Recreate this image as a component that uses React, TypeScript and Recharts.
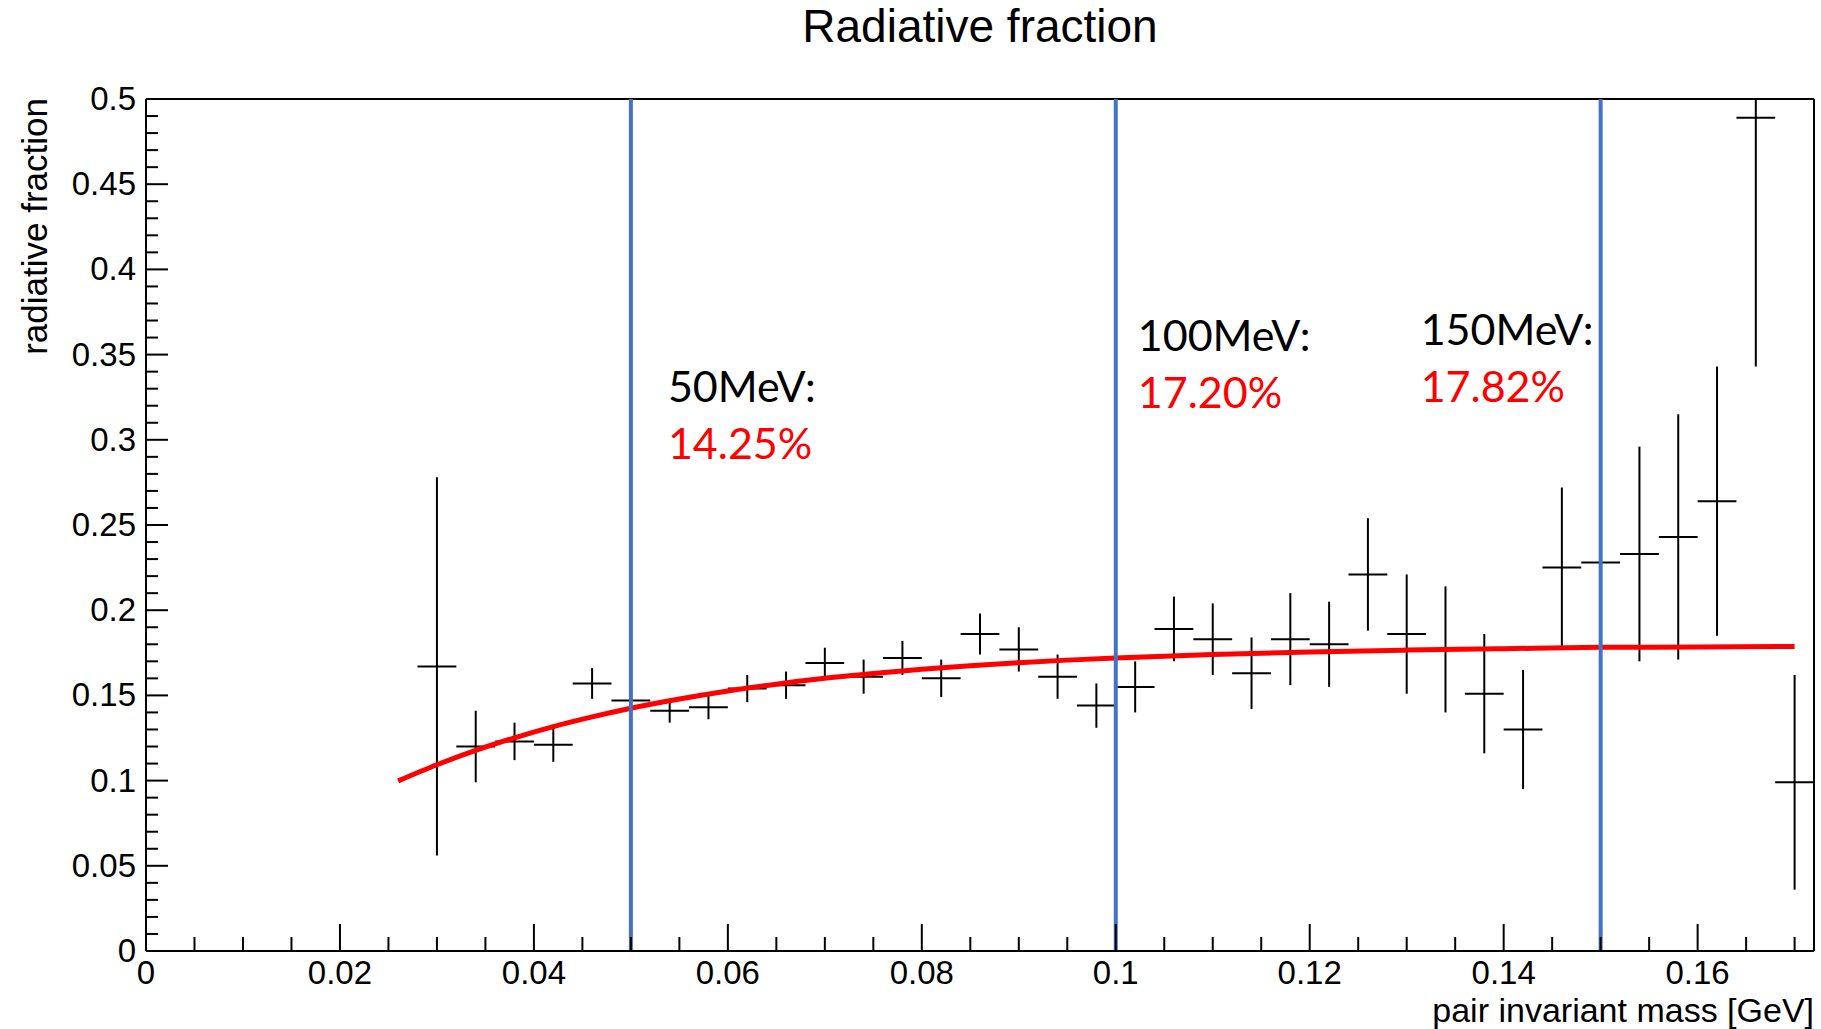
import {
  ComposedChart,
  ErrorBar,
  Line,
  ReferenceLine,
  Scatter,
  XAxis,
  YAxis,
} from "recharts";

// bin centres of the histogram [GeV]
const massBins = [
  0.03, 0.034, 0.038, 0.042, 0.046, 0.05, 0.054, 0.058, 0.062, 0.066, 0.07, 0.074,
  0.078, 0.082, 0.086, 0.09, 0.094, 0.098, 0.102, 0.106, 0.11, 0.114, 0.118, 0.122,
  0.126, 0.13, 0.134, 0.138, 0.142, 0.146, 0.15, 0.154, 0.158, 0.162, 0.166, 0.17,
];
const fraction = [
  0.167, 0.12, 0.123, 0.121, 0.157, 0.147, 0.141, 0.143, 0.154, 0.156, 0.169, 0.161,
  0.172, 0.16, 0.186, 0.177, 0.161, 0.144, 0.155, 0.189, 0.183, 0.163, 0.183, 0.18,
  0.221, 0.186, 0.177, 0.151, 0.13, 0.225, 0.228, 0.233, 0.243, 0.264, 0.489, 0.099,
];
const fractionErr = [
  0.111, 0.021, 0.011, 0.01, 0.009, 0.008, 0.007, 0.007, 0.008, 0.008, 0.009, 0.01,
  0.01, 0.011, 0.012, 0.013, 0.013, 0.013, 0.015, 0.019, 0.021, 0.021, 0.027, 0.025,
  0.033, 0.035, 0.037, 0.035, 0.035, 0.047, 0.084, 0.063, 0.072, 0.079, 0.146, 0.063,
];
const binHalfWidth = 0.002;

// fitted curve
const fitMass = [
  0.026, 0.03, 0.034, 0.038, 0.042, 0.046, 0.05, 0.055, 0.06, 0.065, 0.07, 0.075,
  0.08, 0.085, 0.09, 0.095, 0.1, 0.11, 0.12, 0.13, 0.14, 0.15, 0.16, 0.17,
];
const fitValue = [
  0.0998, 0.1093, 0.1177, 0.1251, 0.1317, 0.1374, 0.1425, 0.1479, 0.1526, 0.1566,
  0.16, 0.1628, 0.1653, 0.1674, 0.1692, 0.1707, 0.172, 0.174, 0.1755, 0.1766, 0.1774,
  0.1782, 0.1784, 0.1787,
];

const xMajorTicks = [0, 0.02, 0.04, 0.06, 0.08, 0.1, 0.12, 0.14, 0.16];
const yMajorTicks = [0, 0.05, 0.1, 0.15, 0.2, 0.25, 0.3, 0.35, 0.4, 0.45, 0.5];

const cutMass = [0.05, 0.1, 0.15];
const cutNames = ["50MeV:", "100MeV:", "150MeV:"];
const cutFractions = ["14.25%", "17.20%", "17.82%"];

// label placement relative to each cut line (px)
const cutLabelDx = [37, 22, -180];
const cutLabelDy = [303, 252, 246];

const X_MAX = 0.172;
const Y_MAX = 0.5;
const FONT = "'Liberation Sans', Arial, sans-serif";

// upper error is cut at the frame, like ROOT draws it
const points = massBins.map((m, i) => ({
  x: m,
  y: fraction[i],
  ey: [fractionErr[i], Math.min(fractionErr[i], Y_MAX - fraction[i])],
  ex: binHalfWidth,
}));
const fit = fitMass.map((m, i) => ({ x: m, y: fitValue[i] }));

const xTicks: number[] = [];
for (let i = 0; i <= 34; i++) xTicks.push(Number((i * 0.005).toFixed(3)));
const yTicks: number[] = [];
for (let i = 0; i <= 50; i++) yTicks.push(Number((i * 0.01).toFixed(2)));

const isMajor = (list: number[], v: number) => list.some((m) => Math.abs(m - v) < 1e-9);

function YTick(props: any) {
  const { x, y, payload } = props;
  const major = isMajor(yMajorTicks, payload.value);
  return (
    <g>
      <line x1={x} x2={x + (major ? 22 : 12)} y1={y} y2={y} stroke="#000" strokeWidth={2} />
      {major && (
        <text x={x - 10} y={y + 11} textAnchor="end" fontSize={33} fontFamily={FONT} fill="#000">
          {String(payload.value)}
        </text>
      )}
    </g>
  );
}

function XTick(props: any) {
  const { x, y, payload } = props;
  const major = isMajor(xMajorTicks, payload.value);
  return (
    <g>
      <line x1={x} x2={x} y1={y} y2={y - (major ? 27 : 14)} stroke="#000" strokeWidth={2} />
      {major && (
        <text x={x} y={y + 33} textAnchor="middle" fontSize={33} fontFamily={FONT} fill="#000">
          {String(payload.value)}
        </text>
      )}
    </g>
  );
}

function CutLabel(props: any) {
  const { viewBox, idx } = props;
  const x = viewBox.x + cutLabelDx[idx];
  const y = viewBox.y + cutLabelDy[idx];
  return (
    <g fontFamily="Lato, 'Open Sans', sans-serif" fontSize={43}>
      <text x={x} y={y} fill="#000">
        {cutNames[idx]}
      </text>
      <text x={x} y={y + 57} fill="#FF0000">
        {cutFractions[idx]}
      </text>
    </g>
  );
}

export default function App() {
  return (
    <div style={{ position: "absolute", left: 0, top: 0, width: 1821, height: 1029, background: "#fff" }}>
      <ComposedChart
        width={1821}
        height={1029}
        margin={{ top: 99, right: 7, bottom: 0, left: 0 }}
      >
        <XAxis
          dataKey="x"
          type="number"
          domain={[0, X_MAX]}
          allowDataOverflow
          ticks={xTicks}
          interval={0}
          tick={<XTick />}
          tickLine={false}
          tickSize={0}
          tickMargin={0}
          height={78}
          axisLine={{ stroke: "#000", strokeWidth: 2 }}
        />
        <YAxis
          type="number"
          domain={[0, Y_MAX]}
          allowDataOverflow
          ticks={yTicks}
          interval={0}
          tick={<YTick />}
          tickLine={false}
          tickSize={0}
          tickMargin={0}
          width={146}
          axisLine={{ stroke: "#000", strokeWidth: 2 }}
        />
        <ReferenceLine y={Y_MAX} stroke="#000" strokeWidth={2} />
        <ReferenceLine x={X_MAX} stroke="#000" strokeWidth={2} />
        <Scatter
          data={points}
          dataKey="y"
          isAnimationActive={false}
          shape={() => <g />}
        >
          <ErrorBar dataKey="ey" direction="y" width={0} stroke="#000" strokeWidth={2} isAnimationActive={false} />
          <ErrorBar dataKey="ex" direction="x" width={0} stroke="#000" strokeWidth={2} isAnimationActive={false} />
        </Scatter>
        <Line
          data={fit}
          dataKey="y"
          type="monotone"
          stroke="#FF0000"
          strokeWidth={5}
          dot={false}
          isAnimationActive={false}
        />
        {cutMass.map((m, i) => (
          <ReferenceLine
            key={m}
            x={m}
            stroke="#4472C4"
            strokeWidth={4}
            label={<CutLabel idx={i} />}
          />
        ))}
      </ComposedChart>
      <svg
        width={1821}
        height={1029}
        style={{ position: "absolute", left: 0, top: 0, pointerEvents: "none" }}
        fontFamily={FONT}
      >
        <text x={980} y={42} textAnchor="middle" fontSize={46} fill="#000">
          Radiative fraction
        </text>
        <text transform="translate(47,98) rotate(-90)" textAnchor="end" fontSize={35} fill="#000">
          radiative fraction
        </text>
        <text x={1814} y={1022} textAnchor="end" fontSize={34} fill="#000">
          pair invariant mass [GeV]
        </text>
      </svg>
    </div>
  );
}
